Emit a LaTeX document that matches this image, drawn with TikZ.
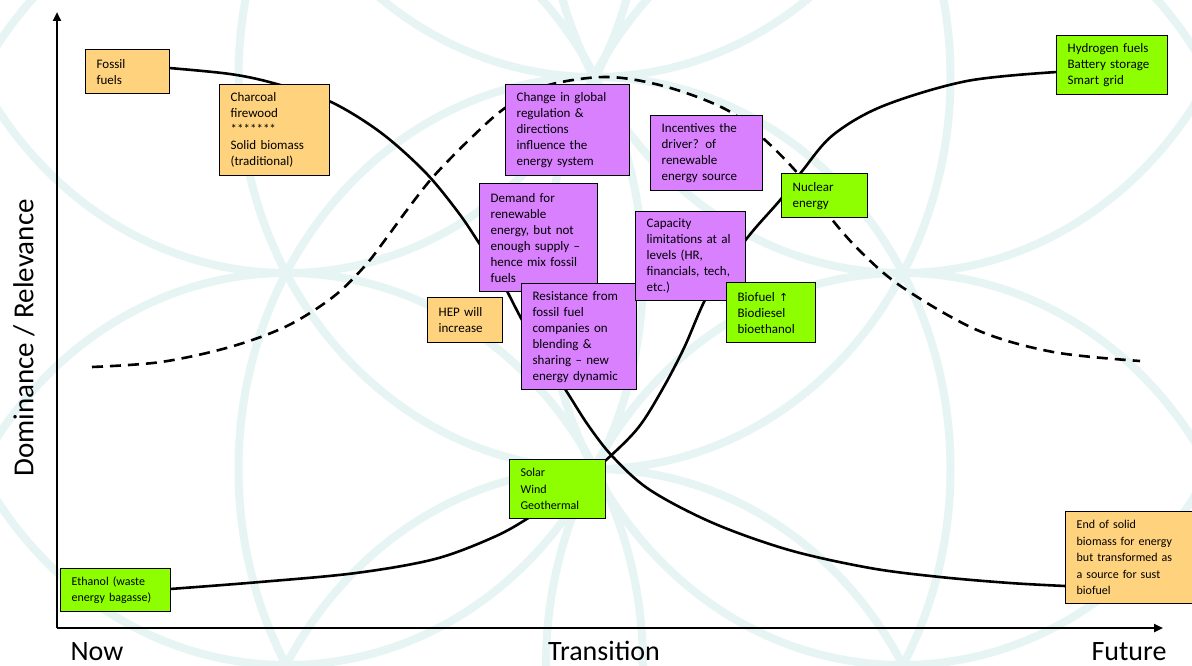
\documentclass[tikz,border=0pt]{standalone}
\usepackage{fontspec}
\setmainfont{Carlito}
\newfontfamily\dejavu{DejaVu Sans}
\usetikzlibrary{arrows.meta}
\pgfdeclarelayer{bg}
\pgfdeclarelayer{mid}
\pgfsetlayers{bg,mid,main}
\definecolor{orangebox}{RGB}{255,211,126}
\definecolor{purplebox}{RGB}{217,128,255}
\definecolor{greenbox}{RGB}{141,255,0}
\definecolor{ringcol}{RGB}{230,244,244}
\begin{document}
\begin{tikzpicture}[x=1pt,y=-1pt,
  box/.style={draw=black, line width=1.3pt, anchor=north west, inner xsep=11pt, inner ysep=0pt,
    align=left, font=\fontsize{13}{16}\selectfont},
  smallbox/.style={box, font=\fontsize{12}{16.5}\selectfont},
  obox/.style={box, fill=orangebox},
  pbox/.style={box, fill=purplebox},
  gbox/.style={box, fill=greenbox},
  trend/.style={line width=2.6pt, black},
  dashtrend/.style={line width=2.6pt, black, dash pattern=on 11pt off 7pt},
  axisline/.style={line width=2.6pt, black, -{Triangle[length=9pt,width=8pt]}},
  ring/.style={ringcol, line width=8pt},
  axislabel/.style={font=\fontsize{28}{33}\selectfont, inner sep=0pt, text depth=0pt, anchor=base}
]
\useasboundingbox (0,0) rectangle (1192,666);

\begin{pgfonlayer}{bg}
  \fill[white] (0,0) rectangle (1192,666);
  \begin{scope}
    \clip (0,0) rectangle (1192,666);
    \foreach \cx/\cy in {287/-119,287/273,287/665,
                         594.5/-315,594.5/77,594.5/469,594.5/861,
                         902/-119,902/273,902/665}
      \draw[ring] (\cx,\cy) ellipse [x radius=356pt, y radius=392pt];
  \end{scope}
\end{pgfonlayer}

% axes
\coordinate (origin) at (57,628);
\coordinate (ytop) at (57,12);
\coordinate (xend) at (1163,628);
\begin{pgfonlayer}{mid}
  \draw[axisline] (origin) -- (ytop);
  \draw[axisline] (origin) -- (xend);
  % declining curve
  \draw[trend] plot[smooth, tension=0.55] coordinates {
    (169,68) (230,74) (273,83) (329,101) (380,132) (425,172) (458,212) (479,243)
    (495,268) (507,291) (522,320) (543,357) (565,389) (588,425) (613,457) (650,490)
    (713,523) (789,550) (870,568) (940,577) (1010,583) (1065,586)};
  % rising curve
  \draw[trend] plot[smooth, tension=0.55] coordinates {
    (170,589) (260,582) (356,573) (435,559) (494,537) (530,517) (570,490) (605,461)
    (638,428) (662,390) (684,348) (705,300) (727,265) (752,232) (781,199) (803,170)
    (833,135) (883,106) (967,81) (1057,72)};
  % bell (dashed) curve
  \draw[dashtrend] plot[smooth, tension=0.55] coordinates {
    (92,367) (161,362) (230,347) (287,326) (333,297) (364,267) (385,240) (407,210)
    (433,177) (470,139) (505,108) (545,86) (607,77) (667,87) (727,110) (765,140)
    (800,176) (830,217) (860,251) (902,287) (977,330) (1053,352) (1140,361)};
\end{pgfonlayer}

% boxes
\node[obox, minimum height=44, text width=62] (fossil) at (85,49) {Fossil\\fuels};
\node[obox, minimum height=91, text width=88] (charcoal) at (219,84) {Charcoal\\firewood\\********\\Solid biomass\\(traditional)};
\node[pbox, minimum height=91, text width=102] (change) at (505,84) {Change in global\\regulation \&\\directions\\influence the\\energy system};
\node[pbox, minimum height=75, text width=90] (incent) at (650,115) {Incentives the\\driver? of\\renewable\\energy source};
\node[gbox, minimum height=59, text width=89] (hydro) at (1056,35) {Hydrogen fuels\\Battery storage\\Smart grid};
\node[gbox, minimum height=44, text width=64] (nuclear) at (781,173) {Nuclear\\energy};
\node[pbox, minimum height=108, text width=96] (demand) at (479,183) {Demand for\\renewable\\energy, but not\\enough supply –\\hence mix fossil\\fuels};
\node[pbox, minimum height=106, text width=93] (resist) at (521,283) {Resistance from\\fossil fuel\\companies on\\blending \&\\sharing – new\\energy dynamic};
\node[pbox, minimum height=89, text width=88] (capacity) at (635,211) {Capacity\\limitations at al\\levels (HR,\\financials, tech,\\etc.)};
\node[gbox, minimum height=60, text width=67] (biofuel) at (726,282) {Biofuel {\dejavu\fontsize{11}{16}\selectfont ↑}\\Biodiesel\\bioethanol};
\node[obox, minimum height=45, text width=53] (hep) at (427,297) {HEP will\\increase};
\node[gbox, smallbox, minimum height=59, text width=74] (solar) at (509,459) {Solar\\Wind\\Geothermal};
\node[gbox, smallbox, minimum height=43, text width=88] (ethanol) at (60,568) {Ethanol (waste\\energy bagasse)};
\node[obox, smallbox, minimum height=92, text width=110] (endbio) at (1065,511) {End of solid\\biomass for energy\\but transformed as\\a source for sust\\biofuel};

% axis labels
\node[axislabel] (now) at (97,660) {Now};
\node[axislabel] (transition) at (604,660) {Transition};
\node[axislabel] (future) at (1129,660) {Future};
\node[font=\fontsize{29}{34}\selectfont, inner sep=0pt, rotate=90] (dom) at (24,338) {Dominance / Relevance};
\end{tikzpicture}
\end{document}
